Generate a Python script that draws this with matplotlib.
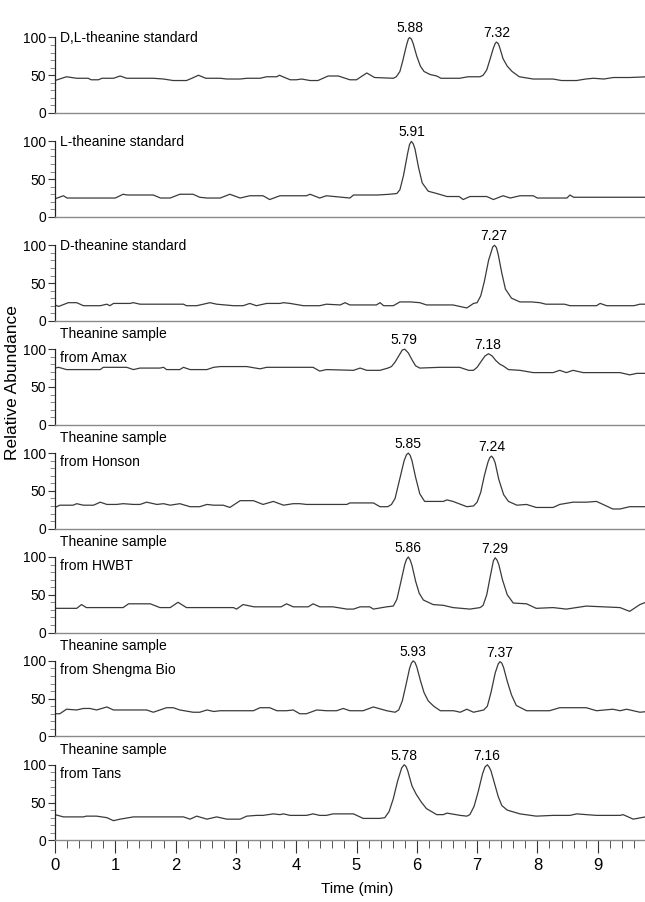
import matplotlib
matplotlib.use('Agg')
import matplotlib.pyplot as plt
from matplotlib.ticker import MultipleLocator, FixedLocator

plt.rcParams['font.family'] = ['Liberation Sans', 'DejaVu Sans']

# chromatogram traces, (time in min, relative abundance)
dl_standard = [(0, 43), (0.19, 48), (0.36, 46), (0.55, 46), (0.6, 44), (0.72, 44), (0.78, 46), (0.97, 46),
               (1.08, 49), (1.19, 46), (1.63, 46), (1.8, 45), (1.96, 43), (2.18, 43), (2.27, 46), (2.38, 50),
               (2.5, 46), (2.74, 46), (2.85, 45), (3.07, 45), (3.18, 46), (3.4, 46), (3.51, 48), (3.68, 48),
               (3.72, 50), (3.9, 44), (4.0, 44), (4.09, 45), (4.23, 43), (4.36, 43), (4.53, 49), (4.7, 49),
               (4.89, 44), (5.0, 44), (5.17, 53), (5.3, 47), (5.61, 46), (5.66, 48), (5.72, 55), (5.77, 70),
               (5.83, 90), (5.86, 98), (5.88, 100), (5.91, 98), (5.94, 92), (6.0, 75), (6.06, 62), (6.12, 55),
               (6.22, 51), (6.33, 49), (6.4, 46), (6.71, 46), (6.85, 48), (7.05, 48), (7.1, 50), (7.16, 57),
               (7.21, 70), (7.27, 86), (7.3, 92), (7.32, 94), (7.35, 92), (7.37, 88), (7.43, 72), (7.5, 62),
               (7.58, 55), (7.7, 48), (7.93, 45), (8.26, 45), (8.4, 43), (8.65, 43), (8.8, 45), (8.93, 46),
               (9.1, 45), (9.26, 47), (9.53, 47), (9.83, 48)]

l_standard = [(0, 24), (0.14, 28), (0.2, 25), (1.0, 25), (1.13, 30), (1.2, 29), (1.63, 29), (1.75, 25),
              (1.91, 25), (2.07, 30), (2.29, 30), (2.4, 26), (2.52, 25), (2.74, 25), (2.9, 30), (3.07, 25),
              (3.23, 28), (3.45, 28), (3.56, 23), (3.73, 28), (4.17, 28), (4.23, 30), (4.39, 25), (4.5, 28),
              (4.89, 25), (4.95, 29), (5.35, 29), (5.55, 30), (5.67, 31), (5.72, 36), (5.78, 55), (5.85, 85),
              (5.88, 96), (5.91, 100), (5.94, 97), (5.97, 90), (6.03, 65), (6.09, 45), (6.19, 34), (6.33, 31),
              (6.5, 27), (6.7, 27), (6.77, 23), (6.88, 27), (7.16, 27), (7.27, 23), (7.43, 28), (7.55, 25),
              (7.71, 28), (7.93, 28), (8.0, 25), (8.49, 25), (8.54, 29), (8.6, 26), (9.83, 26)]

d_standard = [(0, 21), (0.06, 19), (0.22, 24), (0.36, 24), (0.47, 20), (0.75, 20), (0.86, 22), (0.91, 20),
              (0.97, 23), (1.24, 23), (1.3, 24), (1.41, 22), (2.13, 22), (2.18, 20), (2.35, 20), (2.57, 24),
              (2.68, 22), (2.96, 20), (3.12, 20), (3.23, 23), (3.34, 20), (3.51, 23), (3.73, 23), (3.79, 24),
              (3.9, 23), (4.12, 20), (4.39, 20), (4.5, 22), (4.73, 21), (4.81, 24), (4.89, 21), (5.33, 21),
              (5.39, 24), (5.45, 20), (5.61, 20), (5.72, 25), (5.9, 25), (6.05, 24), (6.16, 21), (6.6, 21),
              (6.83, 17), (6.94, 23), (7.0, 24), (7.06, 33), (7.12, 52), (7.19, 80), (7.26, 98), (7.29, 100),
              (7.32, 97), (7.35, 88), (7.41, 63), (7.47, 42), (7.57, 30), (7.71, 25), (7.9, 25), (8.04, 24),
              (8.14, 22), (8.45, 22), (8.54, 20), (8.98, 20), (9.04, 23), (9.15, 20), (9.6, 20), (9.7, 22),
              (9.83, 22)]

amax = [(0, 75), (0.06, 76), (0.19, 73), (0.75, 73), (0.8, 76), (1.19, 76), (1.3, 73), (1.41, 75),
        (1.74, 75), (1.8, 76), (1.85, 73), (2.07, 73), (2.13, 76), (2.24, 73), (2.52, 73), (2.63, 76),
        (2.74, 77), (3.18, 77), (3.4, 74), (3.51, 76), (4.28, 76), (4.39, 71), (4.5, 73), (4.95, 72),
        (5.06, 75), (5.17, 72), (5.39, 72), (5.52, 75), (5.58, 77), (5.64, 83), (5.7, 91), (5.76, 99),
        (5.8, 100), (5.86, 95), (5.92, 86), (5.98, 78), (6.05, 75), (6.38, 76), (6.71, 76), (6.86, 72),
        (6.94, 72), (7.0, 76), (7.06, 83), (7.13, 91), (7.19, 94), (7.25, 91), (7.31, 85), (7.38, 80),
        (7.43, 78), (7.52, 73), (7.71, 72), (7.93, 69), (8.26, 69), (8.37, 72), (8.48, 69), (8.59, 72),
        (8.76, 69), (9.37, 69), (9.53, 66), (9.65, 68), (9.83, 68)]

honson = [(0, 28), (0.08, 31), (0.3, 31), (0.36, 33), (0.47, 31), (0.64, 31), (0.75, 35), (0.86, 32),
          (1.02, 32), (1.13, 33), (1.3, 32), (1.41, 32), (1.52, 35), (1.69, 32), (1.8, 33), (1.91, 31),
          (2.07, 33), (2.24, 29), (2.4, 29), (2.52, 32), (2.63, 31), (2.79, 31), (2.9, 28), (3.07, 37),
          (3.29, 37), (3.45, 32), (3.62, 36), (3.79, 31), (3.95, 33), (4.06, 33), (4.17, 32), (4.5, 32),
          (4.84, 32), (4.89, 34), (5.28, 34), (5.39, 29), (5.52, 29), (5.58, 32), (5.64, 40), (5.7, 60),
          (5.79, 90), (5.83, 98), (5.86, 100), (5.89, 97), (5.92, 90), (5.98, 68), (6.05, 46), (6.13, 36),
          (6.27, 36), (6.44, 36), (6.5, 38), (6.6, 36), (6.83, 29), (6.94, 30), (7.0, 35), (7.06, 48),
          (7.12, 70), (7.18, 88), (7.21, 94), (7.24, 96), (7.27, 93), (7.3, 87), (7.36, 65), (7.44, 45),
          (7.52, 36), (7.66, 31), (7.82, 32), (7.98, 28), (8.26, 28), (8.37, 32), (8.59, 35), (8.81, 35),
          (8.98, 36), (9.25, 26), (9.37, 26), (9.53, 29), (9.83, 29)]

hwbt = [(0, 32), (0.36, 32), (0.44, 37), (0.52, 33), (1.13, 33), (1.22, 38), (1.58, 38), (1.74, 33),
        (1.91, 33), (2.04, 40), (2.18, 33), (2.96, 33), (3.01, 31), (3.12, 37), (3.3, 34), (3.75, 34),
        (3.84, 38), (3.95, 34), (4.2, 34), (4.28, 38), (4.39, 34), (4.61, 34), (4.84, 31), (4.95, 31),
        (5.06, 34), (5.22, 34), (5.28, 31), (5.5, 34), (5.61, 35), (5.67, 44), (5.73, 65), (5.8, 90),
        (5.83, 97), (5.86, 100), (5.89, 96), (5.92, 89), (5.98, 68), (6.04, 52), (6.11, 43), (6.27, 37),
        (6.44, 36), (6.6, 33), (6.88, 31), (7.05, 33), (7.1, 36), (7.16, 50), (7.22, 75), (7.27, 95),
        (7.3, 99), (7.33, 96), (7.36, 90), (7.42, 70), (7.5, 50), (7.6, 39), (7.82, 38), (7.98, 32),
        (8.26, 33), (8.48, 31), (8.81, 35), (9.09, 34), (9.37, 33), (9.53, 28), (9.7, 37), (9.83, 41)]

shengma = [(0, 30), (0.08, 30), (0.19, 36), (0.36, 35), (0.47, 37), (0.58, 37), (0.69, 35), (0.86, 39),
           (0.97, 35), (1.08, 35), (1.52, 35), (1.63, 32), (1.74, 35), (1.85, 38), (1.96, 38), (2.07, 35),
           (2.29, 32), (2.4, 32), (2.52, 35), (2.63, 33), (2.74, 34), (3.29, 34), (3.4, 38), (3.56, 38),
           (3.68, 34), (3.84, 34), (3.95, 35), (4.06, 30), (4.17, 30), (4.34, 35), (4.5, 34), (4.67, 34),
           (4.78, 37), (4.89, 34), (5.11, 34), (5.28, 39), (5.5, 34), (5.64, 32), (5.7, 35), (5.76, 47),
           (5.82, 68), (5.88, 90), (5.91, 97), (5.94, 100), (5.97, 98), (6.0, 92), (6.06, 74), (6.12, 58),
           (6.19, 47), (6.28, 40), (6.39, 34), (6.61, 34), (6.72, 32), (6.83, 36), (6.94, 32), (7.11, 35),
           (7.17, 40), (7.23, 58), (7.3, 84), (7.35, 96), (7.38, 99), (7.41, 97), (7.44, 91), (7.5, 73),
           (7.57, 55), (7.65, 41), (7.82, 34), (8.2, 34), (8.37, 38), (8.81, 38), (8.98, 34), (9.25, 36),
           (9.37, 34), (9.48, 36), (9.7, 32), (9.83, 33)]

tans = [(0, 34), (0.14, 31), (0.47, 31), (0.52, 32), (0.69, 32), (0.86, 30), (0.97, 26), (1.08, 28),
        (1.3, 31), (2.13, 31), (2.24, 28), (2.35, 32), (2.52, 28), (2.68, 31), (2.85, 28), (3.07, 28),
        (3.18, 32), (3.34, 33), (3.45, 33), (3.62, 35), (3.73, 34), (3.79, 35), (3.9, 33), (4.17, 33),
        (4.28, 35), (4.39, 33), (4.5, 33), (4.61, 35), (4.95, 35), (5.11, 29), (5.39, 29), (5.47, 30),
        (5.54, 38), (5.61, 55), (5.68, 78), (5.75, 96), (5.79, 100), (5.82, 98), (5.85, 92), (5.92, 72),
        (5.99, 61), (6.08, 50), (6.16, 42), (6.33, 34), (6.44, 34), (6.5, 36), (6.72, 33), (6.83, 32),
        (6.88, 34), (6.95, 45), (7.02, 65), (7.09, 88), (7.13, 97), (7.17, 100), (7.2, 97), (7.23, 92),
        (7.29, 75), (7.35, 58), (7.41, 46), (7.5, 40), (7.71, 35), (7.98, 32), (8.26, 33), (8.54, 33),
        (8.65, 35), (8.81, 34), (8.98, 33), (9.37, 33), (9.42, 34), (9.59, 28), (9.79, 31), (9.83, 31)]

traces = [dl_standard, l_standard, d_standard, amax, honson, hwbt, shengma, tans]
titles = [['D,L-theanine standard'], ['L-theanine standard'], ['D-theanine standard'],
          ['Theanine sample', 'from Amax'], ['Theanine sample', 'from Honson'],
          ['Theanine sample', 'from HWBT'], ['Theanine sample', 'from Shengma Bio'],
          ['Theanine sample', 'from Tans']]
peak_labels = [['5.88', '7.32'], ['5.91'], ['7.27'], ['5.79', '7.18'], ['5.85', '7.24'],
               ['5.86', '7.29'], ['5.93', '7.37'], ['5.78', '7.16']]

W, H = 645, 902
fig = plt.figure(figsize=(W / 100, H / 100), dpi=100)

left_px, right_px = 55, 645
zero_px0, step_px = 113, 103.9
unit_px = 75.5          # pixels per 100 % abundance
ax_h_px = 100
ymax = 100 * ax_h_px / unit_px
xmax = (right_px - left_px) / 60.3

line_col = '#3a3a3a'
n = len(traces)
for i, (trace, title, peaks) in enumerate(zip(traces, titles, peak_labels)):
    zero_px = zero_px0 + i * step_px
    ax = fig.add_axes([left_px / W, 1 - zero_px / H, (right_px - left_px) / W, ax_h_px / H])
    t = [p[0] for p in trace]
    v = [p[1] for p in trace]
    ax.plot(t, v, color=line_col, lw=0.9)
    ax.set_xlim(0, xmax)
    ax.set_ylim(0, ymax)
    ax.patch.set_alpha(0)

    for s in ['top', 'right']:
        ax.spines[s].set_visible(False)
    ax.spines['left'].set_bounds(0, 100)
    ax.spines['left'].set_color('#222222')
    ax.spines['left'].set_linewidth(0.9)
    ax.spines['bottom'].set_color('#8a8a8a')
    ax.spines['bottom'].set_linewidth(1.0)

    ax.yaxis.set_major_locator(FixedLocator([0, 50, 100]))
    ax.yaxis.set_minor_locator(FixedLocator([10, 20, 30, 40, 60, 70, 80, 90]))
    ax.tick_params(axis='y', which='major', direction='out', length=5, width=0.8,
                   color='#333333', labelsize=10, pad=1.5)
    ax.tick_params(axis='y', which='minor', direction='out', length=3.5, width=0.6, color='#777777')

    if i < n - 1:
        ax.tick_params(axis='x', which='both', bottom=False, labelbottom=False)
    else:
        ax.xaxis.set_major_locator(MultipleLocator(1))
        ax.xaxis.set_minor_locator(MultipleLocator(0.2))
        ax.tick_params(axis='x', which='major', direction='out', length=9, width=0.8,
                       color='#333333', labelsize=12, pad=4)
        ax.tick_params(axis='x', which='minor', direction='out', length=6, width=0.7, color='#555555')

    # panel title
    if len(title) == 1:
        ax.text(0.08, 99, title[0], fontsize=10, va='center', ha='left')
    else:
        ax.text(0.08, 120, title[0], fontsize=10, va='center', ha='left')
        ax.text(0.08, 88, title[1], fontsize=10, va='center', ha='left')

    # retention time labels above the peaks
    for lab in peaks:
        tp = float(lab)
        top = max(val for tt, val in trace if abs(tt - tp) < 0.1)
        ax.annotate(lab, xy=(tp, top), xytext=(0, 1.5), textcoords='offset points',
                    ha='center', va='bottom', fontsize=10, annotation_clip=False)

fig.text(13 / W, 1 - 383 / H, 'Relative Abundance', rotation=90, ha='center', va='center',
         fontsize=12.5)
fig.text(357 / W, 1 - 889 / H, 'Time (min)', ha='center', va='center', fontsize=11)

fig.savefig('out.png', dpi=100)
